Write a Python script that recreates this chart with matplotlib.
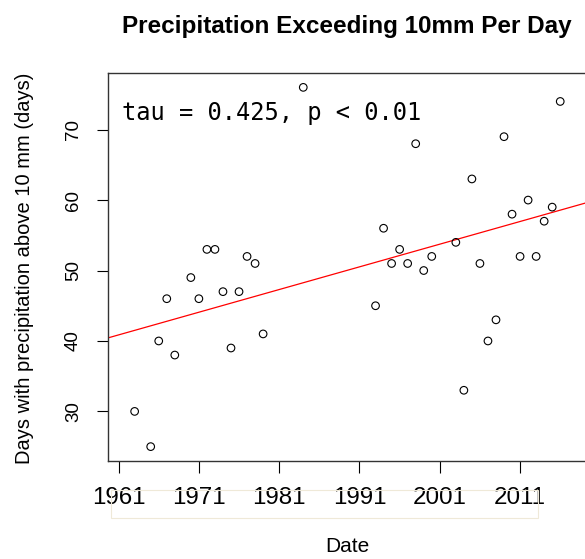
import matplotlib
matplotlib.use("Agg")
import matplotlib.pyplot as plt
from matplotlib.patches import Rectangle

# Data
years = [1963, 1965, 1966, 1967, 1968, 1970, 1971, 1972, 1973, 1974, 1975, 1976,
         1977, 1978, 1979, 1984, 1993, 1994, 1995, 1996, 1997, 1998, 1999, 2000,
         2003, 2004, 2005, 2006, 2007, 2008, 2009, 2010, 2011, 2012, 2013, 2014,
         2015, 2016]
days = [30, 25, 40, 46, 38, 49, 46, 53, 53, 47, 39, 47,
        52, 51, 41, 76, 45, 56, 51, 53, 51, 68, 50, 52,
        54, 33, 63, 51, 40, 43, 69, 58, 52, 60, 52, 57,
        59, 74]
trend_x0 = 1961
trend_y0 = 40.86
trend_slope = 0.322
xticks = [1961, 1971, 1981, 1991, 2001, 2011]
yticks = [30, 40, 50, 60, 70]
title = "Precipitation Exceeding 10mm Per Day"
xlabel = "Date"
ylabel = "Days with precipitation above 10 mm (days)"
annot = "tau = 0.425, p < 0.01"

W, H = 585, 559
fig = plt.figure(figsize=(W / 100, H / 100), dpi=100)
plt.rcParams['font.family'] = ['Liberation Sans', 'DejaVu Sans']

xlim = (1959.72, 2020.0)
ylim = (22.96, 78.04)
px_per_year = 8.03
left_px, top_px, bottom_px = 108.3, 73.0, 461.0
width_px = (xlim[1] - xlim[0]) * px_per_year
ax = fig.add_axes([left_px / W, 1 - bottom_px / H, width_px / W, (bottom_px - top_px) / H])

ax.scatter(years, days, s=30, facecolors='none', edgecolors='black', linewidths=0.8, zorder=3)
ax.axline((trend_x0, trend_y0), slope=trend_slope, color='red', linewidth=0.9, zorder=2)

ax.set_xlim(*xlim)
ax.set_ylim(*ylim)
ax.set_xticks(xticks)
ax.set_xticklabels([str(t) for t in xticks], fontsize=17.4)
ax.set_yticks(yticks)
ax.set_yticklabels([str(t) for t in yticks], fontsize=13.5, rotation=90, va='center')
ax.tick_params(axis='x', length=8.5, width=0.8, pad=10.5, colors='black')
ax.tick_params(axis='y', length=8, width=0.8, pad=11, colors='black')
for sp in ax.spines.values():
    sp.set_linewidth(1.0)
    sp.set_color('#333333')

ax.text(121.7 / W, 1 - 113 / H, annot, transform=fig.transFigure,
        family='DejaVu Sans Mono', fontsize=17.1, ha='left', va='center')

fig.text(347 / W, 1 - 27 / H, title, fontsize=17.5, fontweight='bold', ha='center', va='center')
fig.text(347 / W, 1 - 546 / H, xlabel, fontsize=15, ha='center', va='center')
fig.text(25 / W, 1 - 268 / H, ylabel, fontsize=14.5, rotation=90, ha='center', va='center')

fig.patches.append(Rectangle((111 / W, 1 - 517.5 / H), (538 - 111) / W, 27.5 / H,
                             transform=fig.transFigure, fill=False,
                             edgecolor='#efe9d8', linewidth=0.8))

fig.savefig("out.png", dpi=100)
